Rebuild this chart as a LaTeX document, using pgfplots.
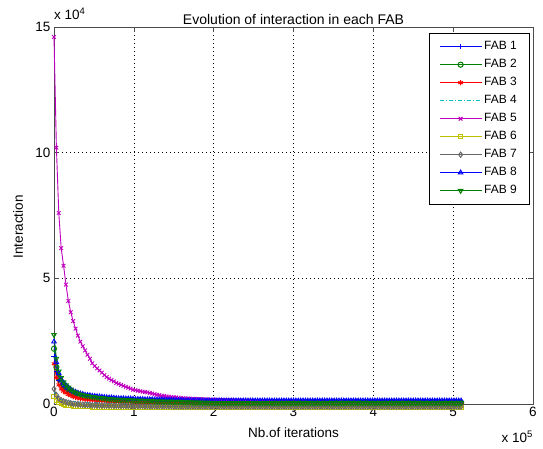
\documentclass[border=0pt]{standalone}
\usepackage{pgfplots}
\pgfplotsset{compat=1.18}
\usepackage{pgfplotstable}
\usepackage{fontspec}
\setmainfont{Liberation Sans}
\definecolor{mblue}{rgb}{0,0,1}
\definecolor{mgreen}{rgb}{0,0.5,0}
\definecolor{mred}{rgb}{1,0,0}
\definecolor{mcyan}{rgb}{0,0.75,0.75}
\definecolor{mmag}{rgb}{0.75,0,0.75}
\definecolor{myel}{rgb}{0.75,0.75,0}
\definecolor{mgray}{rgb}{0.4,0.4,0.4}
\definecolor{axgray}{rgb}{0.3,0.3,0.3}

% x in units of 1e5 iterations, interaction in units of 1e4
\pgfplotstableread{
x f1 f2 f3 f4 f5 f6 f7 f8 f9
0.00 1.90 2.20 1.60 0.50 14.6 0.30 0.60 2.48 2.75
0.03 1.28 1.46 1.05 0.33 10.2 0.15 0.36 1.66 1.81
0.06 0.94 1.06 0.76 0.24 7.60 0.06 0.22 1.22 1.30
0.09 0.76 0.84 0.60 0.19 6.20 0.02 0.15 0.98 1.04
0.12 0.65 0.72 0.51 0.16 5.50 -0.01 0.11 0.84 0.87
0.15 0.57 0.62 0.44 0.14 4.75 -0.03 0.08 0.74 0.75
0.18 0.51 0.55 0.38 0.13 4.10 -0.04 0.05 0.65 0.66
0.21 0.46 0.48 0.34 0.11 3.65 -0.06 0.03 0.58 0.58
0.24 0.40 0.42 0.29 0.10 3.30 -0.07 0.01 0.51 0.50
0.27 0.38 0.39 0.27 0.09 3.00 -0.08 0.00 0.48 0.46
0.30 0.35 0.36 0.24 0.08 2.72 -0.08 -0.01 0.44 0.42
0.33 0.33 0.32 0.22 0.08 2.48 -0.09 -0.02 0.41 0.38
0.36 0.31 0.30 0.20 0.07 2.30 -0.09 -0.03 0.39 0.35
0.39 0.29 0.28 0.19 0.07 2.13 -0.10 -0.03 0.36 0.33
0.42 0.28 0.27 0.18 0.06 1.96 -0.10 -0.04 0.35 0.31
0.45 0.27 0.26 0.17 0.06 1.80 -0.10 -0.04 0.34 0.30
0.48 0.26 0.25 0.16 0.06 1.62 -0.11 -0.05 0.32 0.28
0.51 0.25 0.24 0.15 0.055 1.51 -0.11 -0.05 0.31 0.27
0.54 0.24 0.22 0.15 0.05 1.42 -0.11 -0.05 0.30 0.25
0.57 0.23 0.21 0.14 0.05 1.33 -0.11 -0.06 0.29 0.24
0.60 0.23 0.21 0.13 0.05 1.25 -0.11 -0.06 0.28 0.23
0.63 0.22 0.20 0.13 0.05 1.15 -0.12 -0.06 0.27 0.22
0.66 0.21 0.19 0.12 0.045 1.07 -0.12 -0.06 0.26 0.21
0.69 0.21 0.18 0.11 0.045 1.01 -0.12 -0.06 0.25 0.20
0.72 0.20 0.18 0.11 0.04 0.95 -0.12 -0.06 0.25 0.19
0.75 0.19 0.17 0.11 0.04 0.90 -0.12 -0.07 0.24 0.18
0.78 0.19 0.16 0.10 0.04 0.84 -0.12 -0.07 0.23 0.17
0.81 0.18 0.16 0.10 0.04 0.80 -0.12 -0.07 0.22 0.17
0.84 0.18 0.15 0.09 0.04 0.76 -0.13 -0.07 0.22 0.16
0.87 0.18 0.15 0.09 0.035 0.72 -0.13 -0.07 0.22 0.16
0.90 0.17 0.15 0.09 0.035 0.68 -0.13 -0.07 0.21 0.15
0.93 0.17 0.14 0.09 0.035 0.65 -0.13 -0.08 0.21 0.15
0.96 0.17 0.14 0.08 0.035 0.61 -0.13 -0.08 0.21 0.15
0.99 0.17 0.13 0.08 0.035 0.57 -0.13 -0.08 0.20 0.14
1.02 0.16 0.12 0.07 0.03 0.55 -0.13 -0.08 0.19 0.13
1.05 0.16 0.12 0.07 0.03 0.53 -0.13 -0.08 0.19 0.13
1.08 0.16 0.12 0.07 0.03 0.51 -0.13 -0.08 0.19 0.13
1.11 0.16 0.12 0.07 0.03 0.49 -0.13 -0.08 0.19 0.13
1.14 0.15 0.11 0.06 0.02 0.48 -0.14 -0.09 0.18 0.12
1.17 0.15 0.11 0.06 0.02 0.46 -0.14 -0.09 0.18 0.12
1.20 0.15 0.11 0.06 0.02 0.44 -0.14 -0.09 0.18 0.12
1.23 0.15 0.11 0.06 0.02 0.42 -0.14 -0.09 0.18 0.12
1.26 0.14 0.10 0.05 0.01 0.39 -0.14 -0.09 0.17 0.10
1.29 0.14 0.10 0.05 0.01 0.37 -0.14 -0.09 0.17 0.10
1.32 0.14 0.10 0.05 0.01 0.35 -0.14 -0.09 0.17 0.10
1.35 0.14 0.10 0.05 0.01 0.33 -0.14 -0.09 0.17 0.10
1.38 0.13 0.09 0.04 0.01 0.32 -0.14 -0.09 0.16 0.09
1.41 0.13 0.09 0.04 0.01 0.30 -0.14 -0.09 0.16 0.09
1.44 0.13 0.09 0.04 0.01 0.29 -0.14 -0.09 0.16 0.09
1.47 0.13 0.09 0.04 0.01 0.28 -0.14 -0.09 0.16 0.09
1.50 0.13 0.08 0.03 0.00 0.27 -0.14 -0.10 0.15 0.08
1.53 0.13 0.08 0.03 0.00 0.26 -0.14 -0.10 0.15 0.08
1.56 0.13 0.08 0.03 0.00 0.25 -0.14 -0.10 0.15 0.08
1.59 0.13 0.08 0.03 0.00 0.24 -0.14 -0.10 0.15 0.08
1.62 0.12 0.07 0.02 0.00 0.23 -0.14 -0.10 0.14 0.07
1.65 0.12 0.07 0.02 0.00 0.22 -0.14 -0.10 0.14 0.07
1.68 0.12 0.07 0.02 0.00 0.22 -0.14 -0.10 0.14 0.07
1.71 0.12 0.07 0.02 0.00 0.21 -0.14 -0.10 0.14 0.07
1.74 0.12 0.06 0.01 -0.01 0.21 -0.14 -0.10 0.14 0.06
1.77 0.12 0.06 0.01 -0.01 0.20 -0.14 -0.10 0.14 0.06
1.80 0.12 0.06 0.01 -0.01 0.20 -0.14 -0.10 0.14 0.06
1.83 0.12 0.06 0.01 -0.01 0.19 -0.14 -0.10 0.14 0.06
1.86 0.11 0.05 0.01 -0.02 0.19 -0.14 -0.10 0.13 0.05
1.89 0.11 0.05 0.01 -0.02 0.18 -0.14 -0.10 0.13 0.05
1.92 0.11 0.05 0.01 -0.02 0.18 -0.14 -0.10 0.13 0.05
1.95 0.11 0.05 0.01 -0.02 0.18 -0.14 -0.10 0.13 0.05
1.98 0.11 0.05 0.00 -0.02 0.17 -0.14 -0.10 0.13 0.04
2.01 0.11 0.05 0.00 -0.02 0.17 -0.14 -0.10 0.13 0.04
2.04 0.11 0.05 0.00 -0.02 0.17 -0.14 -0.10 0.13 0.04
2.07 0.11 0.05 0.00 -0.02 0.16 -0.14 -0.10 0.13 0.04
2.10 0.11 0.05 0.00 -0.02 0.16 -0.14 -0.10 0.13 0.04
2.13 0.11 0.05 0.00 -0.02 0.15 -0.14 -0.10 0.13 0.04
2.16 0.11 0.05 0.00 -0.02 0.15 -0.14 -0.10 0.13 0.04
2.19 0.11 0.05 0.00 -0.02 0.15 -0.14 -0.10 0.13 0.04
2.22 0.11 0.05 0.00 -0.02 0.15 -0.14 -0.10 0.13 0.04
2.25 0.11 0.05 0.00 -0.02 0.14 -0.14 -0.10 0.13 0.04
2.28 0.11 0.05 0.00 -0.02 0.14 -0.14 -0.10 0.13 0.04
2.31 0.11 0.05 0.00 -0.02 0.14 -0.14 -0.10 0.13 0.04
2.34 0.11 0.05 0.00 -0.02 0.14 -0.14 -0.10 0.13 0.04
2.37 0.11 0.05 0.00 -0.02 0.13 -0.14 -0.10 0.13 0.04
2.40 0.11 0.05 0.00 -0.02 0.13 -0.14 -0.10 0.13 0.04
2.43 0.11 0.05 0.00 -0.02 0.13 -0.14 -0.10 0.13 0.04
2.46 0.11 0.05 0.00 -0.02 0.13 -0.14 -0.10 0.13 0.04
2.49 0.11 0.05 0.00 -0.02 0.12 -0.14 -0.10 0.13 0.04
2.52 0.11 0.05 0.00 -0.02 0.12 -0.14 -0.10 0.13 0.04
2.55 0.11 0.05 0.00 -0.02 0.12 -0.14 -0.10 0.13 0.04
2.58 0.11 0.05 0.00 -0.02 0.12 -0.14 -0.10 0.13 0.04
2.61 0.11 0.05 0.00 -0.02 0.11 -0.14 -0.10 0.13 0.04
2.64 0.11 0.05 0.00 -0.02 0.11 -0.14 -0.10 0.13 0.04
2.67 0.11 0.05 0.00 -0.02 0.11 -0.14 -0.10 0.13 0.04
2.70 0.11 0.05 0.00 -0.02 0.11 -0.14 -0.10 0.13 0.04
2.73 0.11 0.05 0.00 -0.02 0.10 -0.14 -0.10 0.13 0.04
2.76 0.11 0.05 0.00 -0.02 0.10 -0.14 -0.10 0.13 0.04
2.79 0.11 0.05 0.00 -0.02 0.10 -0.14 -0.10 0.13 0.04
2.82 0.11 0.05 0.00 -0.02 0.10 -0.14 -0.10 0.13 0.04
2.85 0.11 0.05 0.00 -0.02 0.09 -0.14 -0.10 0.13 0.04
2.88 0.11 0.05 0.00 -0.02 0.09 -0.14 -0.10 0.13 0.04
2.91 0.11 0.05 0.00 -0.02 0.09 -0.14 -0.10 0.13 0.04
2.94 0.11 0.05 0.00 -0.02 0.09 -0.14 -0.10 0.13 0.04
2.97 0.11 0.05 0.00 -0.02 0.08 -0.14 -0.10 0.13 0.04
3.00 0.11 0.05 0.00 -0.02 0.08 -0.14 -0.10 0.13 0.04
3.03 0.11 0.05 0.00 -0.02 0.08 -0.14 -0.10 0.13 0.04
3.06 0.11 0.05 0.00 -0.02 0.08 -0.14 -0.10 0.13 0.04
3.09 0.11 0.05 0.00 -0.02 0.08 -0.14 -0.10 0.13 0.04
3.12 0.11 0.05 0.00 -0.02 0.08 -0.14 -0.10 0.13 0.04
3.15 0.11 0.05 0.00 -0.02 0.07 -0.14 -0.10 0.13 0.04
3.18 0.11 0.05 0.00 -0.02 0.07 -0.14 -0.10 0.13 0.04
3.21 0.11 0.05 0.00 -0.02 0.07 -0.14 -0.10 0.13 0.04
3.24 0.11 0.05 0.00 -0.02 0.07 -0.14 -0.10 0.13 0.04
3.27 0.11 0.05 0.00 -0.02 0.07 -0.14 -0.10 0.13 0.04
3.30 0.11 0.05 0.00 -0.02 0.07 -0.14 -0.10 0.13 0.04
3.33 0.11 0.05 0.00 -0.02 0.07 -0.14 -0.10 0.13 0.04
3.36 0.11 0.05 0.00 -0.02 0.07 -0.14 -0.10 0.13 0.04
3.39 0.11 0.05 0.00 -0.02 0.07 -0.14 -0.10 0.13 0.04
3.42 0.11 0.05 0.00 -0.02 0.07 -0.14 -0.10 0.13 0.04
3.45 0.11 0.05 0.00 -0.02 0.06 -0.14 -0.10 0.13 0.04
3.48 0.11 0.05 0.00 -0.02 0.06 -0.14 -0.10 0.13 0.04
3.51 0.11 0.05 0.00 -0.02 0.06 -0.14 -0.10 0.13 0.04
3.54 0.11 0.05 0.00 -0.02 0.06 -0.14 -0.10 0.13 0.04
3.57 0.11 0.05 0.00 -0.02 0.06 -0.14 -0.10 0.13 0.04
3.60 0.11 0.05 0.00 -0.02 0.06 -0.14 -0.10 0.13 0.04
3.63 0.11 0.05 0.00 -0.02 0.06 -0.14 -0.10 0.13 0.04
3.66 0.11 0.05 0.00 -0.02 0.06 -0.14 -0.10 0.13 0.04
3.69 0.11 0.05 0.00 -0.02 0.06 -0.14 -0.10 0.13 0.04
3.72 0.11 0.05 0.00 -0.02 0.06 -0.14 -0.10 0.13 0.04
3.75 0.11 0.05 0.00 -0.02 0.06 -0.14 -0.10 0.13 0.04
3.78 0.11 0.05 0.00 -0.02 0.06 -0.14 -0.10 0.13 0.04
3.81 0.11 0.05 0.00 -0.02 0.06 -0.14 -0.10 0.13 0.04
3.84 0.11 0.05 0.00 -0.02 0.06 -0.14 -0.10 0.13 0.04
3.87 0.11 0.05 0.00 -0.02 0.06 -0.14 -0.10 0.13 0.04
3.90 0.11 0.05 0.00 -0.02 0.06 -0.14 -0.10 0.13 0.04
3.93 0.11 0.05 0.00 -0.02 0.06 -0.14 -0.10 0.13 0.04
3.96 0.11 0.05 0.00 -0.02 0.06 -0.14 -0.10 0.13 0.04
3.99 0.11 0.05 0.00 -0.02 0.06 -0.14 -0.10 0.13 0.04
4.02 0.11 0.05 0.00 -0.02 0.06 -0.14 -0.10 0.13 0.04
4.05 0.11 0.05 0.00 -0.02 0.06 -0.14 -0.10 0.13 0.04
4.08 0.11 0.05 0.00 -0.02 0.06 -0.14 -0.10 0.13 0.04
4.11 0.11 0.05 0.00 -0.02 0.06 -0.14 -0.10 0.13 0.04
4.14 0.11 0.05 0.00 -0.02 0.06 -0.14 -0.10 0.13 0.04
4.17 0.11 0.05 0.00 -0.02 0.06 -0.14 -0.10 0.13 0.04
4.20 0.11 0.05 0.00 -0.02 0.06 -0.14 -0.10 0.13 0.04
4.23 0.11 0.05 0.00 -0.02 0.06 -0.14 -0.10 0.13 0.04
4.26 0.11 0.05 0.00 -0.02 0.06 -0.14 -0.10 0.13 0.04
4.29 0.11 0.05 0.00 -0.02 0.06 -0.14 -0.10 0.13 0.04
4.32 0.11 0.05 0.00 -0.02 0.06 -0.14 -0.10 0.13 0.04
4.35 0.11 0.05 0.00 -0.02 0.06 -0.14 -0.10 0.13 0.04
4.38 0.11 0.05 0.00 -0.02 0.06 -0.14 -0.10 0.13 0.04
4.41 0.11 0.05 0.00 -0.02 0.06 -0.14 -0.10 0.13 0.04
4.44 0.11 0.05 0.00 -0.02 0.06 -0.14 -0.10 0.13 0.04
4.47 0.11 0.05 0.00 -0.02 0.06 -0.14 -0.10 0.13 0.04
4.50 0.11 0.05 0.00 -0.02 0.06 -0.14 -0.10 0.13 0.04
4.53 0.11 0.05 0.00 -0.02 0.06 -0.14 -0.10 0.13 0.04
4.56 0.11 0.05 0.00 -0.02 0.06 -0.14 -0.10 0.13 0.04
4.59 0.11 0.05 0.00 -0.02 0.06 -0.14 -0.10 0.13 0.04
4.62 0.11 0.05 0.00 -0.02 0.06 -0.14 -0.10 0.13 0.04
4.65 0.11 0.05 0.00 -0.02 0.06 -0.14 -0.10 0.13 0.04
4.68 0.11 0.05 0.00 -0.02 0.06 -0.14 -0.10 0.13 0.04
4.71 0.11 0.05 0.00 -0.02 0.06 -0.14 -0.10 0.13 0.04
4.74 0.11 0.05 0.00 -0.02 0.06 -0.14 -0.10 0.13 0.04
4.77 0.11 0.05 0.00 -0.02 0.06 -0.14 -0.10 0.13 0.04
4.80 0.11 0.05 0.00 -0.02 0.06 -0.14 -0.10 0.13 0.04
4.83 0.11 0.05 0.00 -0.02 0.06 -0.14 -0.10 0.13 0.04
4.86 0.11 0.05 0.00 -0.02 0.06 -0.14 -0.10 0.13 0.04
4.89 0.11 0.05 0.00 -0.02 0.06 -0.14 -0.10 0.13 0.04
4.92 0.11 0.05 0.00 -0.02 0.06 -0.14 -0.10 0.13 0.04
4.95 0.11 0.05 0.00 -0.02 0.06 -0.14 -0.10 0.13 0.04
4.98 0.11 0.05 0.00 -0.02 0.06 -0.14 -0.10 0.13 0.04
5.01 0.11 0.05 0.00 -0.02 0.06 -0.14 -0.10 0.13 0.04
5.04 0.11 0.05 0.00 -0.02 0.06 -0.14 -0.10 0.13 0.04
5.07 0.11 0.05 0.00 -0.02 0.06 -0.14 -0.10 0.13 0.04
5.10 0.11 0.05 0.00 -0.02 0.06 -0.14 -0.10 0.13 0.04
}\fabdata

\begin{document}
\begin{tikzpicture}
\path[use as bounding box] (0,0) rectangle (543pt,449pt);
\begin{axis}[
  at={(54pt,45pt)}, anchor=south west,
  scale only axis, width=479pt, height=377pt,
  xmin=0, xmax=6, ymin=0, ymax=15,
  xtick={0,1,2,3,4,5,6}, ytick={0,5,10,15},
  grid=major,
  major grid style={black, line width=0.5pt, dash pattern=on 0.8pt off 3.2pt},
  tick align=inside, major tick length=5pt,
  axis line style={draw=axgray, line width=0.6pt},
  every tick/.style={axgray, line width=0.6pt},
  tick label style={font=\fontsize{13.5}{15}\selectfont},
  /pgf/number format/assume math mode=true,
  clip=false,
  title={Evolution of interaction in each FAB},
  title style={at={(axis description cs:0.5,1)}, anchor=base, yshift=-4pt, font=\fontsize{14}{16}\selectfont},
  xlabel={Nb.of iterations},
  xlabel style={at={(axis description cs:0.5,0)}, anchor=base, yshift=-34pt, font=\fontsize{13.5}{15}\selectfont},
  ylabel={Interaction},
  ylabel style={at={(axis description cs:-0.075,0.47)}, anchor=center, rotate=0, font=\fontsize{13.5}{15}\selectfont},
  every axis plot/.append style={line width=0.9pt, mark size=2.6pt},
  legend image code/.code={%
    \draw[#1, mark=none] (0pt,0pt) -- (42pt,0pt);
    \path[#1, solid] plot coordinates {(21pt,0pt)};},
  legend cell align=left,
  legend style={at={(axis description cs:1,1)}, anchor=north east, xshift=-4pt, yshift=-6pt,
    draw=black, fill=white, font=\fontsize{12}{14}\selectfont,
    row sep=6pt, inner xsep=10pt, inner ysep=7.5pt,
    nodes={inner ysep=0pt, inner xsep=2pt, text height=9pt, text depth=3pt}},
]
% lines and marks
\addplot[draw=mblue, no markers, forget plot] table[x=x, y=f1] {\fabdata};
\addplot[draw=mblue, only marks, mark=+, forget plot] table[x=x, y=f1] {\fabdata};
\addplot[draw=mgreen, no markers, forget plot] table[x=x, y=f2] {\fabdata};
\addplot[draw=mgreen, only marks, mark=o, forget plot] table[x=x, y=f2] {\fabdata};
\addplot[draw=mred, no markers, forget plot] table[x=x, y=f3] {\fabdata};
\addplot[draw=mred, only marks, mark=asterisk, forget plot] table[x=x, y=f3] {\fabdata};
\addplot[draw=mcyan, no markers, dash pattern=on 4pt off 2pt on 1pt off 2pt, forget plot] table[x=x, y=f4] {\fabdata};
\addplot[draw=mmag, no markers, forget plot] table[x=x, y=f5] {\fabdata};
\addplot[draw=mmag, only marks, mark=x, forget plot] table[x=x, y=f5] {\fabdata};
\addplot[draw=myel, no markers, forget plot] table[x=x, y=f6] {\fabdata};
\addplot[draw=myel, only marks, mark=square, mark size=2.2pt, forget plot] table[x=x, y=f6] {\fabdata};
\addplot[draw=mgray, no markers, forget plot] table[x=x, y=f7] {\fabdata};
\addplot[draw=mgray, only marks, mark=diamond, forget plot] table[x=x, y=f7] {\fabdata};
\addplot[draw=mblue, no markers, forget plot] table[x=x, y=f8] {\fabdata};
\addplot[draw=mblue, only marks, mark=triangle, forget plot] table[x=x, y=f8] {\fabdata};
\addplot[draw=mgreen, no markers, forget plot] table[x=x, y=f9] {\fabdata};
\addplot[draw=mgreen, only marks, mark=triangle, mark options={rotate=180}, forget plot] table[x=x, y=f9] {\fabdata};
% legend entries
\addlegendimage{draw=mblue, line width=1pt, mark=+, mark size=2.6pt}
\addlegendimage{draw=mgreen, line width=1pt, mark=o, mark size=2.6pt}
\addlegendimage{draw=mred, line width=1pt, mark=asterisk, mark size=2.6pt}
\addlegendimage{draw=mcyan, line width=1pt, dash pattern=on 4pt off 2pt on 1pt off 2pt}
\addlegendimage{draw=mmag, line width=1pt, mark=x, mark size=2.6pt}
\addlegendimage{draw=myel, line width=1pt, mark=square, mark size=2.2pt}
\addlegendimage{draw=mgray, line width=1pt, mark=diamond, mark size=2.6pt}
\addlegendimage{draw=mblue, line width=1pt, mark=triangle, mark size=2.6pt}
\addlegendimage{draw=mgreen, line width=1pt, mark=triangle, mark size=2.6pt, mark options={rotate=180}}
\legend{FAB 1,FAB 2,FAB 3,FAB 4,FAB 5,FAB 6,FAB 7,FAB 8,FAB 9}
\node[anchor=base west, font=\fontsize{13.5}{15}\selectfont, inner sep=0pt] at (axis description cs:0,1) [yshift=7pt] {x 10\textsuperscript{4}};
\node[anchor=base east, font=\fontsize{13.5}{15}\selectfont, inner sep=0pt] at (axis description cs:1,0) [yshift=-39pt] {x 10\textsuperscript{5}};
\end{axis}
\end{tikzpicture}
\end{document}
